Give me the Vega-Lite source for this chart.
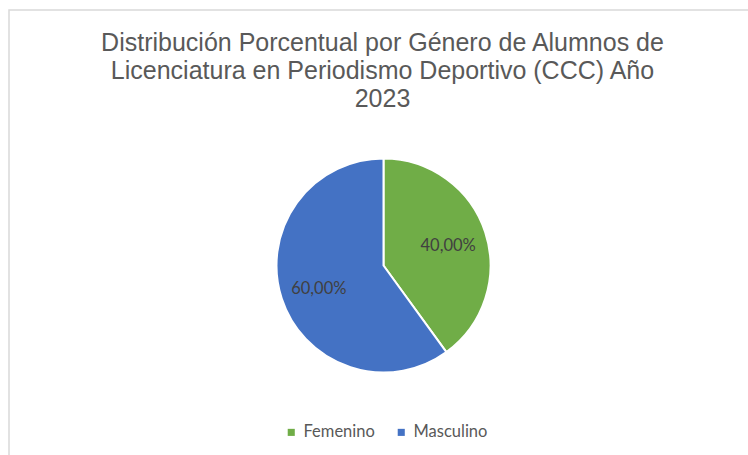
{
  "$schema": "https://vega.github.io/schema/vega-lite/v6.json",
  "autosize": "none",
  "padding": {"left": 9, "top": 10, "right": 0, "bottom": 0},
  "width": 739,
  "height": 445,
  "background": "white",
  "view": {"stroke": "#d9d9d9", "strokeWidth": 1.5, "strokeDash": [739, 1184, 445, 1]},
  "title": {
    "text": ["Distribución Porcentual por Género de Alumnos de", "Licenciatura en Periodismo Deportivo (CCC) Año", "2023"],
    "anchor": "middle",
    "orient": "top",
    "offset": -102,
    "dx": 4,
    "font": "Liberation Sans",
    "fontSize": 25,
    "fontWeight": "normal",
    "color": "#595959",
    "lineHeight": 28
  },
  "data": {
    "values": [
      {"genero": "Femenino", "porcentaje": 40, "etiqueta": "40,00%"},
      {"genero": "Masculino", "porcentaje": 60, "etiqueta": "60,00%"}
    ]
  },
  "encoding": {
    "theta": {"field": "porcentaje", "type": "quantitative", "stack": true},
    "color": {
      "field": "genero",
      "type": "nominal",
      "scale": {"domain": ["Femenino", "Masculino"], "range": ["#70AD47", "#4472C4"]},
      "legend": {
        "title": null,
        "orient": "none",
        "direction": "horizontal",
        "legendX": 274,
        "legendY": 414,
        "symbolType": "square",
        "symbolSize": 50,
        "symbolStrokeWidth": 0,
        "labelFont": "Lato",
        "labelFontSize": 16.5,
        "labelColor": "#595959",
        "columnPadding": 18,
        "labelOffset": 4
      }
    }
  },
  "layer": [
    {
      "mark": {"type": "arc", "outerRadius": 107, "stroke": "white", "strokeWidth": 2, "xOffset": 5, "yOffset": 33}
    },
    {
      "mark": {"type": "text", "radius": 68, "font": "Lato", "fontSize": 16.5, "color": "#404040", "xOffset": 5, "yOffset": 35},
      "encoding": {
        "text": {"field": "etiqueta", "type": "nominal"},
        "color": {"value": "#404040"}
      }
    }
  ]
}
